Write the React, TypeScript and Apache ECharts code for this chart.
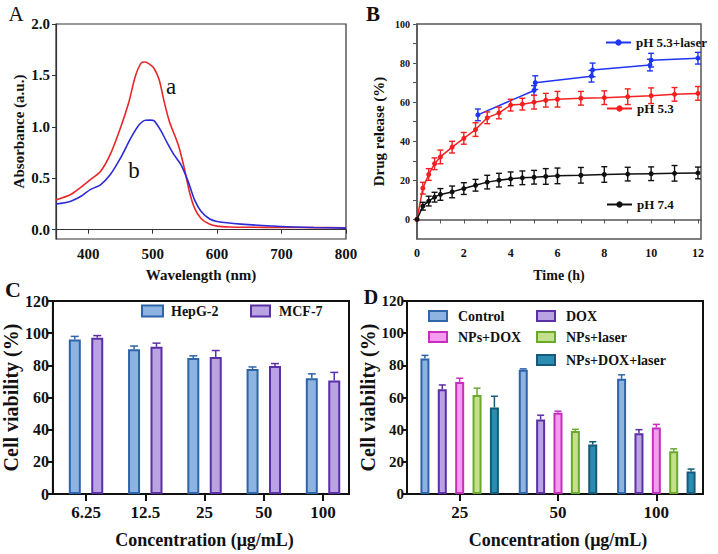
import React, { useEffect, useRef } from 'react';
import * as echarts from 'echarts';

// ---------- Panel A: UV-vis spectra ----------
const A_X_TICKS = [400, 500, 600, 700, 800];
const A_Y_TICKS = [0, 0.5, 1.0, 1.5, 2.0];
const A_CURVE_A: [number, number][] = [
  [350, 0.29], [372, 0.34], [390, 0.42], [403, 0.485], [419, 0.566], [434, 0.73], [450, 0.99],
  [463, 1.24], [473, 1.49], [482, 1.62], [488, 1.63], [495, 1.61], [502, 1.57], [510, 1.46],
  [518, 1.24], [526, 1.05], [536, 0.89], [541, 0.8], [549, 0.6], [557, 0.37], [565, 0.21],
  [575, 0.11], [588, 0.055], [600, 0.035], [620, 0.027], [650, 0.024], [700, 0.022], [750, 0.021], [800, 0.02],
];
const A_CURVE_B: [number, number][] = [
  [350, 0.25], [372, 0.275], [390, 0.33], [403, 0.39], [419, 0.437], [434, 0.534], [450, 0.696],
  [466, 0.89], [479, 1.02], [489, 1.065], [496, 1.066], [502, 1.06], [512, 0.97], [523, 0.84],
  [533, 0.73], [544, 0.63], [555, 0.47], [565, 0.29], [575, 0.18], [588, 0.107], [600, 0.08],
  [637, 0.055], [700, 0.032], [750, 0.022], [800, 0.016],
];

// ---------- Panel B: drug release ----------
const B_TIME = [0, 0.25, 0.5, 0.75, 1, 1.5, 2, 2.5, 3, 3.5, 4, 4.5, 5, 5.5, 6, 7, 8, 9, 10, 11, 12];
const B_PH74 = [0, 6.8, 9.4, 11.4, 12.8, 14.1, 15.8, 17.5, 19.1, 20.1, 20.8, 21.3, 21.6, 22, 22.3, 22.6, 23, 23.2, 23.4, 23.6, 23.8];
const B_PH74_ERR = [0, 2, 2.5, 2.5, 3, 3, 3, 3, 3.5, 3.5, 3.5, 3.5, 3.5, 4, 4, 4, 4, 3.5, 3.5, 4, 3];
const B_PH53 = [0, 16, 23, 28.5, 32, 37, 41.5, 46, 52, 54.5, 58.5, 59, 60, 61, 61.5, 62, 62.3, 62.8, 63.3, 64, 64.5];
const B_PH53_ERR = [0, 3, 3, 3, 3.5, 3, 3, 3.5, 3, 3, 3, 3, 3.5, 3.5, 4, 3.5, 3.5, 4, 4, 3.5, 3.5];
const B_LASER_TIME = [2.6, 5, 5.05, 7.45, 7.5, 9.95, 10, 12];
const B_LASER = [53.5, 66, 70, 73.3, 76.5, 79, 81.5, 82.5];
const B_LASER_ERR = [3, 2.5, 3.5, 3, 3.5, 3, 3.5, 3];
const B_X_TICKS = [0, 1, 2, 3, 4, 5, 6, 7, 8, 9, 10, 11, 12];
const B_X_LABELS = [0, 2, 4, 6, 8, 10, 12];
const B_Y_TICKS = [0, 10, 20, 30, 40, 50, 60, 70, 80, 90, 100];
const B_Y_LABELS = [0, 20, 40, 60, 80, 100];

// ---------- Panel C: cell viability, two cell lines ----------
const C_CATEGORIES = ['6.25', '12.5', '25', '50', '100'];
const C_HEPG2 = [96, 90, 84.6, 77.7, 72];
const C_HEPG2_ERR = [2, 2, 1.3, 1.3, 2.7];
const C_MCF7 = [97.2, 91.5, 85.2, 79.6, 70.6];
const C_MCF7_ERR = [1.3, 2.3, 4, 1.5, 5];

// ---------- Panel D: cell viability, treatments ----------
const D_CATEGORIES = ['25', '50', '100'];
const D_CONTROL = [84.2, 77.3, 71.6];
const D_CONTROL_ERR = [2, 0.5, 2.5];
const D_DOX = [65.1, 46.3, 37.7];
const D_DOX_ERR = [2.7, 2.7, 2.3];
const D_NPS_DOX = [69.7, 50.5, 41.3];
const D_NPS_DOX_ERR = [2.3, 1, 2];
const D_NPS_LASER = [61.6, 39.2, 26.6];
const D_NPS_LASER_ERR = [4.2, 1, 1.5];
const D_NPS_DOX_LASER = [53.8, 30.8, 14];
const D_NPS_DOX_LASER_ERR = [7, 1.7, 1.5];

const SERIF = '"Liberation Serif", "Times New Roman", serif';
const INK = '#111';

const COL = {
  blueFill: '#8db3e2', blueLine: '#2f64a8',
  purpleFill: '#b9a3e3', purpleLine: '#5b2fa6',
  pinkFill: '#f59cf0', pinkLine: '#c72ec0',
  greenFill: '#c3e08c', greenLine: '#6aa92c',
  tealFill: '#2a8db0', tealLine: '#155a7a',
};

function errBarsXY(offset: number, color: string, capHalf: number, upperOnly: boolean, lw: number) {
  return (params: any, api: any) => {
    const x = api.value(0);
    const y = api.value(1);
    const e = api.value(2);
    if (!e) return { type: 'group', children: [] };
    const top = api.coord([x, y + e]);
    const bot = api.coord([x, upperOnly ? y : y - e]);
    const cx = top[0] + offset;
    const style = { stroke: color, lineWidth: lw };
    const children: any[] = [
      { type: 'line', shape: { x1: cx, y1: top[1], x2: cx, y2: bot[1] }, style },
      { type: 'line', shape: { x1: cx - capHalf, y1: top[1], x2: cx + capHalf, y2: top[1] }, style },
    ];
    if (!upperOnly) {
      children.push({ type: 'line', shape: { x1: cx - capHalf, y1: bot[1], x2: cx + capHalf, y2: bot[1] }, style });
    }
    return { type: 'group', children };
  };
}

export default function App() {
  const ref = useRef<HTMLDivElement>(null);

  useEffect(() => {
    document.body.style.margin = '0';
    if (!ref.current) return;
    const chart = echarts.init(ref.current, undefined, { renderer: 'svg' });

    const tickFont = (size: number) => ({ fontFamily: SERIF, fontWeight: 'bold' as const, fontSize: size, color: INK });

    const cBarW = 12, cGap = 0.87;
    const cStep = cBarW * (1 + cGap);
    const dBarW = 9, dGap = 0.93;
    const dStep = dBarW * (1 + dGap);

    const cSeries = [
      { name: 'HepG-2', data: C_HEPG2, err: C_HEPG2_ERR, fill: COL.blueFill, line: COL.blueLine },
      { name: 'MCF-7', data: C_MCF7, err: C_MCF7_ERR, fill: COL.purpleFill, line: COL.purpleLine },
    ];
    const dSeries = [
      { name: 'Control', data: D_CONTROL, err: D_CONTROL_ERR, fill: COL.blueFill, line: COL.blueLine },
      { name: 'DOX', data: D_DOX, err: D_DOX_ERR, fill: COL.purpleFill, line: COL.purpleLine },
      { name: 'NPs+DOX', data: D_NPS_DOX, err: D_NPS_DOX_ERR, fill: COL.pinkFill, line: COL.pinkLine },
      { name: 'NPs+laser', data: D_NPS_LASER, err: D_NPS_LASER_ERR, fill: COL.greenFill, line: COL.greenLine },
      { name: 'NPs+DOX+laser', data: D_NPS_DOX_LASER, err: D_NPS_DOX_LASER_ERR, fill: COL.tealFill, line: COL.tealLine },
    ];

    const bSeries = [
      { name: 'pH 5.3+laser', t: B_LASER_TIME, v: B_LASER, e: B_LASER_ERR, color: '#1f35f5' },
      { name: 'pH 5.3', t: B_TIME, v: B_PH53, e: B_PH53_ERR, color: '#f41f1f' },
      { name: 'pH 7.4', t: B_TIME, v: B_PH74, e: B_PH74_ERR, color: '#111111' },
    ];

    const series: any[] = [];

    // Panel A
    series.push({
      type: 'line', xAxisIndex: 0, yAxisIndex: 0, data: A_CURVE_A, smooth: 0.25, showSymbol: false,
      lineStyle: { color: '#e8262a', width: 1.6 }, z: 3,
    });
    series.push({
      type: 'line', xAxisIndex: 0, yAxisIndex: 0, data: A_CURVE_B, smooth: 0.25, showSymbol: false,
      lineStyle: { color: '#2b2bd8', width: 1.6 }, z: 4,
    });

    // Panel B
    bSeries.forEach((s) => {
      series.push({
        name: s.name, type: 'line', xAxisIndex: 1, yAxisIndex: 1,
        data: s.t.map((t, i) => [t, s.v[i]]),
        symbol: 'circle', symbolSize: 5, showSymbol: true,
        lineStyle: { color: s.color, width: 1.5 }, itemStyle: { color: s.color },
      });
      series.push({
        type: 'custom', xAxisIndex: 1, yAxisIndex: 1,
        data: s.t.map((t, i) => [t, s.v[i], s.e[i]]),
        encode: { x: 0, y: 1 },
        renderItem: errBarsXY(0, s.color, 3, false, 1.4), z: 5,
      });
    });

    // Panel C
    cSeries.forEach((s, k) => {
      series.push({
        name: s.name, type: 'bar', xAxisIndex: 3, yAxisIndex: 3, data: s.data,
        barWidth: cBarW, barGap: `${cGap * 100}%`,
        itemStyle: { color: s.fill, borderColor: s.line, borderWidth: 2 },
      });
      series.push({
        type: 'custom', xAxisIndex: 3, yAxisIndex: 3,
        data: s.data.map((v, i) => [i, v, s.err[i]]), encode: { x: 0, y: 1 },
        renderItem: errBarsXY((k - (cSeries.length - 1) / 2) * cStep, s.line, 4, true, 1.5), z: 5,
      });
    });

    // Panel D
    dSeries.forEach((s, k) => {
      series.push({
        name: s.name, type: 'bar', xAxisIndex: 5, yAxisIndex: 5, data: s.data,
        barWidth: dBarW, barGap: `${dGap * 100}%`,
        itemStyle: { color: s.fill, borderColor: s.line, borderWidth: 2 },
      });
      series.push({
        type: 'custom', xAxisIndex: 5, yAxisIndex: 5,
        data: s.data.map((v, i) => [i, v, s.err[i]]), encode: { x: 0, y: 1 },
        renderItem: errBarsXY((k - (dSeries.length - 1) / 2) * dStep, s.line, 3.5, true, 1.5), z: 5,
      });
    });

    const legendText = (size: number, padLeft: number) => ({
      fontFamily: SERIF, fontWeight: 'bold' as const, fontSize: size, color: INK, padding: [0, 0, 0, padLeft],
    });
    const barLegend = (name: string, left: number, top: number, w: number, h: number, size: number, pad: number) => ({
      data: [name], left, top, padding: 0, itemWidth: w, itemHeight: h, icon: 'rect',
      selectedMode: false, textStyle: legendText(size, pad),
    });
    const lineLegend = (name: string, left: number, top: number) => ({
      data: [name], left, top, padding: 0, itemWidth: 25, itemHeight: 8,
      selectedMode: false, textStyle: legendText(13, 0),
    });

    const hidden = { show: false };

    const option: any = {
      animation: false,
      backgroundColor: '#ffffff',
      grid: [
        { left: 56, top: 24, width: 290, height: 215, show: true, borderColor: '#333', borderWidth: 1.2, backgroundColor: 'transparent' },
        { left: 417, top: 24, width: 284, height: 215, show: true, borderColor: '#555', borderWidth: 1.5, backgroundColor: 'transparent' },
        { left: 51, top: 301, width: 298, height: 193, show: true, borderColor: INK, borderWidth: 2, backgroundColor: 'transparent' },
        { left: 56.4, top: 301, width: 296.25, height: 193 },
        { left: 407, top: 301, width: 296, height: 193, show: true, borderColor: INK, borderWidth: 2, backgroundColor: 'transparent' },
        { left: 410.5, top: 301, width: 295, height: 193 },
      ],
      xAxis: [
        {
          gridIndex: 0, type: 'value', min: 350, max: 800,
          axisLine: { show: true, lineStyle: { color: '#333', width: 1.2 } },
          axisTick: { show: true, customValues: A_X_TICKS, length: 4, lineStyle: { color: '#333' } },
          axisLabel: { customValues: A_X_TICKS, margin: 7, ...tickFont(15) },
          splitLine: hidden,
          name: 'Wavelength (nm)', nameLocation: 'middle', nameGap: 28,
          nameTextStyle: { ...tickFont(15) },
        },
        {
          gridIndex: 1, type: 'value', min: 0, max: 12.13,
          axisLine: { show: true, lineStyle: { color: '#555', width: 1.5 } },
          axisTick: { show: true, customValues: B_X_TICKS, length: 4, lineStyle: { color: '#555' } },
          axisLabel: { customValues: B_X_LABELS, margin: 8, ...tickFont(12) },
          splitLine: hidden,
          name: 'Time (h)', nameLocation: 'middle', nameGap: 29,
          nameTextStyle: { ...tickFont(14) },
        },
        { gridIndex: 2, type: 'value', show: false, min: 0, max: 1 },
        {
          gridIndex: 3, type: 'category', data: C_CATEGORIES,
          axisLine: hidden,
          axisTick: { show: true, alignWithLabel: true, length: 7, lineStyle: { color: INK, width: 2 } },
          axisLabel: { margin: 10, ...tickFont(17) },
          name: 'Concentration (μg/mL)', nameLocation: 'middle', nameGap: 37,
          nameTextStyle: { ...tickFont(18) },
        },
        { gridIndex: 4, type: 'value', show: false, min: 0, max: 1 },
        {
          gridIndex: 5, type: 'category', data: D_CATEGORIES,
          axisLine: hidden,
          axisTick: { show: true, alignWithLabel: true, length: 7, lineStyle: { color: INK, width: 2 } },
          axisLabel: { margin: 10, ...tickFont(17) },
          name: 'Concentration (μg/mL)', nameLocation: 'middle', nameGap: 37,
          nameTextStyle: { ...tickFont(18) },
        },
      ],
      yAxis: [
        {
          gridIndex: 0, type: 'value', min: -0.09, max: 2.0,
          axisLine: { show: true, lineStyle: { color: '#333', width: 1.2 } },
          axisTick: { show: true, customValues: A_Y_TICKS, length: 4, lineStyle: { color: '#333' } },
          axisLabel: { customValues: A_Y_TICKS, formatter: (v: number) => v.toFixed(1), margin: 6, ...tickFont(15) },
          splitLine: hidden,
          name: 'Absorbance (a.u.)', nameLocation: 'middle', nameGap: 30,
          nameTextStyle: { ...tickFont(15) },
        },
        {
          gridIndex: 1, type: 'value', min: -10, max: 100,
          axisLine: { show: true, lineStyle: { color: '#555', width: 1.5 } },
          axisTick: { show: true, customValues: B_Y_TICKS, length: 4, lineStyle: { color: '#555' } },
          axisLabel: { customValues: B_Y_LABELS, margin: 7, ...tickFont(10) },
          splitLine: hidden,
          name: 'Drug release (%)', nameLocation: 'middle', nameGap: 31,
          nameTextStyle: { ...tickFont(15) },
        },
        {
          gridIndex: 2, type: 'value', min: 0, max: 120, interval: 20,
          axisLine: { show: true, lineStyle: { color: INK, width: 2 } },
          axisTick: { show: true, length: 5, lineStyle: { color: INK, width: 2 } },
          axisLabel: { margin: 4, ...tickFont(16) },
          splitLine: hidden,
          name: 'Cell viability (%)', nameLocation: 'middle', nameGap: 29,
          nameTextStyle: { ...tickFont(20) },
        },
        { gridIndex: 3, type: 'value', min: 0, max: 120, show: false },
        {
          gridIndex: 4, type: 'value', min: 0, max: 120, interval: 20,
          axisLine: { show: true, lineStyle: { color: INK, width: 2 } },
          axisTick: { show: true, length: 5, lineStyle: { color: INK, width: 2 } },
          axisLabel: { margin: 3, ...tickFont(15) },
          splitLine: hidden,
          name: 'Cell viability (%)', nameLocation: 'middle', nameGap: 25,
          nameTextStyle: { ...tickFont(20) },
        },
        { gridIndex: 5, type: 'value', min: 0, max: 120, show: false },
      ],
      legend: [
        lineLegend('pH 5.3+laser', 605, 36),
        lineLegend('pH 5.3', 606, 102),
        lineLegend('pH 7.4', 606, 198),
        barLegend('HepG-2', 141, 304, 21, 11, 14, 3),
        barLegend('MCF-7', 250, 304, 19, 11, 14, 4),
        barLegend('Control', 428, 309, 18, 10, 14, 6),
        barLegend('DOX', 536, 309, 18, 10, 14, 6),
        barLegend('NPs+DOX', 428, 330, 18, 10, 14, 6),
        barLegend('NPs+laser', 536, 330, 18, 10, 14, 6),
        barLegend('NPs+DOX+laser', 536, 353, 18, 10, 14, 6),
      ],
      graphic: [
        { type: 'text', x: 16, y: 14, style: { text: 'A', fontFamily: SERIF, fontSize: 21, fill: INK, align: 'center', verticalAlign: 'middle' } },
        { type: 'text', x: 373, y: 14, style: { text: 'B', fontFamily: SERIF, fontWeight: 'bold', fontSize: 21, fill: INK, align: 'center', verticalAlign: 'middle' } },
        { type: 'text', x: 13, y: 289, style: { text: 'C', fontFamily: SERIF, fontWeight: 'bold', fontSize: 22, fill: INK, align: 'center', verticalAlign: 'middle' } },
        { type: 'text', x: 371, y: 297, style: { text: 'D', fontFamily: SERIF, fontWeight: 'bold', fontSize: 20, fill: INK, align: 'center', verticalAlign: 'middle' } },
        { type: 'text', x: 171, y: 86, style: { text: 'a', fontFamily: SERIF, fontSize: 23, fill: INK, align: 'center', verticalAlign: 'middle' } },
        { type: 'text', x: 134, y: 170, style: { text: 'b', fontFamily: SERIF, fontSize: 23, fill: INK, align: 'center', verticalAlign: 'middle' } },
      ],
      series,
    };

    chart.setOption(option);
    return () => chart.dispose();
  }, []);

  return <div ref={ref} style={{ width: 718, height: 554 }} />;
}
